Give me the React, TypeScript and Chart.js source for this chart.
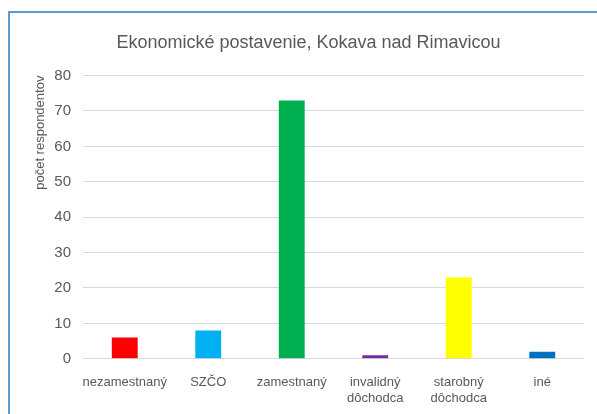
import React, { useEffect, useRef } from "react";
import { Chart, registerables } from "chart.js";

Chart.register(...registerables);

const categories: (string | string[])[] = [
  "nezamestnaný",
  "SZČO",
  "zamestnaný",
  ["invalidný", "dôchodca"],
  ["starobný", "dôchodca"],
  "iné",
];
const values = [6, 8, 73, 1, 23, 2];
const barColors = ["#ff0000", "#00b0f0", "#00b050", "#7030a0", "#ffff00", "#0070c0"];
const titleText = "Ekonomické postavenie, Kokava nad Rimavicou";
const yAxisTitle = "počet respondentov";

const FONT = "'Liberation Sans Narrow', 'Liberation Sans', Arial, sans-serif";

export default function App() {
  const ref = useRef<HTMLCanvasElement>(null);
  useEffect(() => {
    document.body.style.margin = "0";
    const chart = new Chart(ref.current!, {
      type: "bar",
      data: {
        labels: categories,
        datasets: [
          {
            data: values,
            backgroundColor: barColors,
            barPercentage: 0.31,
            categoryPercentage: 1,
          },
        ],
      },
      options: {
        animation: false,
        responsive: false,
        layout: { padding: { left: 33, right: 13, top: 32, bottom: 0 } },
        plugins: {
          legend: { display: false },
          tooltip: { enabled: false },
          title: {
            display: true,
            text: titleText,
            color: "#595959",
            font: { family: FONT, size: 18, weight: "normal" },
            padding: { top: 0, bottom: 22 },
          },
        },
        scales: {
          x: {
            grid: { display: false },
            border: { display: false },
            afterFit: (scale: any) => {
              scale.paddingLeft = 0;
              scale.paddingRight = 0;
            },
            ticks: {
              color: "#595959",
              font: { family: FONT, size: 13 },
              maxRotation: 0,
              autoSkip: false,
              padding: 8,
            },
          },
          y: {
            min: 0,
            max: 80,
            afterFit: (scale: any) => {
              scale.width = 50;
            },
            ticks: {
              stepSize: 10,
              color: "#595959",
              font: { family: "'Liberation Sans', Arial, sans-serif", size: 15 },
              padding: 12,
            },
            grid: { color: "#d9d9d9", lineWidth: 1, drawTicks: false },
            border: { display: false },
            title: {
              display: true,
              text: yAxisTitle,
              align: "end",
              color: "#595959",
              font: { family: "'Liberation Sans', Arial, sans-serif", size: 13 },
              padding: { top: 0, bottom: 0 },
            },
          },
        },
      },
    });
    return () => chart.destroy();
  }, []);
  return (
    <div style={{ position: "relative", width: 597, height: 414, overflow: "hidden", background: "#fff" }}>
      <canvas ref={ref} width={597} height={414} style={{ position: "absolute", left: 0, top: 0 }} />
      <div
        style={{
          position: "absolute",
          left: 8,
          top: 11,
          width: 700,
          height: 500,
          borderLeft: "2px solid #5b9bd5",
          borderTop: "2px solid #5b9bd5",
          pointerEvents: "none",
        }}
      />
    </div>
  );
}
